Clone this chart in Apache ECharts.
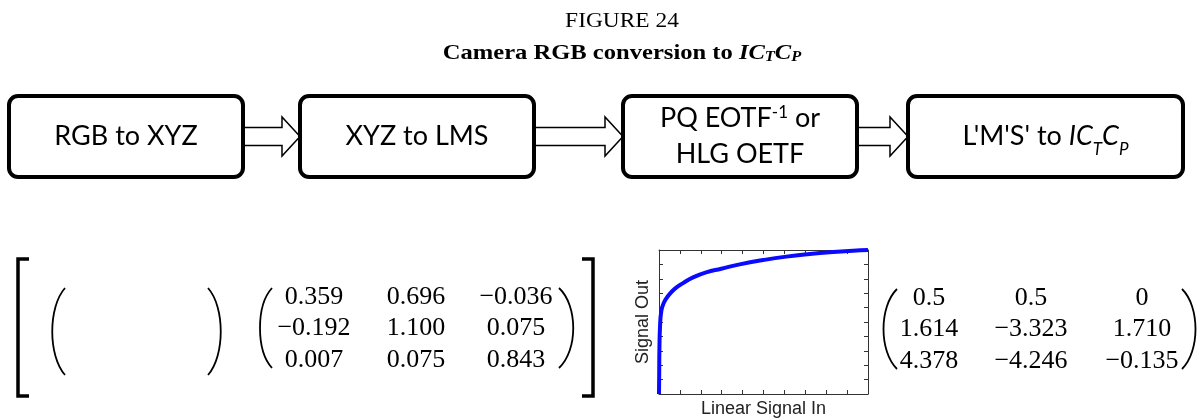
<!DOCTYPE html>
<html>
<head>
<meta charset="utf-8">
<script src="https://cdn.jsdelivr.net/npm/echarts@6/dist/echarts.min.js"></script>
<style>
html, body { margin: 0; padding: 0; background: #fff; }
#main { width: 1201px; height: 419px; }
</style>
</head>
<body>
<div id="main"></div>
<script>
// ▼ transfer curve (x = linear in, y = signal out)
const aCurveX = [0, 0.001, 0.002, 0.005, 0.011, 0.022, 0.043, 0.075, 0.115, 0.163, 0.226, 0.298, 0.386, 0.498, 0.609, 0.721, 0.833, 0.928, 1];
const aCurveY = [0, 0.15, 0.31, 0.47, 0.575, 0.63, 0.68, 0.73, 0.77, 0.81, 0.845, 0.87, 0.90, 0.93, 0.954, 0.972, 0.986, 0.995, 1];

const aBoxLabels = [
    '{n|RGB to XYZ}',
    '{n|XYZ to LMS}',
    '{n|PQ EOTF}{sup|-1}{n| or}\n{n|HLG OETF}',
    '{n|L\'M\'S\' to }{i|IC}{sub|T}{i|C}{sub|P}',
];
const aMatrixLMS = [
    ['0.359', '0.696', '\u22120.036'],
    ['\u22120.192', '1.100', '0.075'],
    ['0.007', '0.075', '0.843'],
];
const aMatrixICtCp = [
    ['0.5', '0.5', '0'],
    ['1.614', '\u22123.323', '1.710'],
    ['4.378', '\u22124.246', '\u22120.135'],
];
const sFigure = 'FIGURE 24';
const sCaption = '{b|Camera RGB conversion to }{bi|IC}{bs|T}{bi|C}{bs|P}';
const sAxisX = 'Linear Signal In';
const sAxisY = 'Signal Out';

// layout of the flow boxes
const aBoxX = [[9, 243], [300, 534], [623, 857], [908, 1183]];
const iBoxTop = 96, iBoxBottom = 177;
const iMidY = (iBoxTop + iBoxBottom) / 2;

const sSans = 'Lato, "Open Sans", sans-serif';
const sSerif = '"Liberation Serif", "Times New Roman", serif';

function getArrow(x0, x1){
    const xh = x1 - 18;
    return {
        type: 'polygon',
        shape: { points: [[x0, iMidY - 9], [xh, iMidY - 9], [xh, iMidY - 19.5], [x1, iMidY], [xh, iMidY + 19.5], [xh, iMidY + 9], [x0, iMidY + 9]] },
        style: { fill: '#fff', stroke: '#000', lineWidth: 1.5 },
    };
}

function getParen(x, yTop, yBot, bulge){
    // bulge < 0: "(" ; bulge > 0: ")"
    const h = yBot - yTop;
    return {
        type: 'bezierCurve',
        shape: { x1: x, y1: yTop, cpx1: x + bulge, cpy1: yTop + h * 0.22, cpx2: x + bulge, cpy2: yBot - h * 0.22, x2: x, y2: yBot },
        style: { fill: 'none', stroke: '#000', lineWidth: 1.8 },
    };
}

function getMatrixText(aRows, aColX, aRowY){
    const arr = [];
    aRows.forEach((row, r) => {
        row.forEach((s, c) => {
            arr.push({
                type: 'text', x: aColX[c], y: aRowY[r],
                style: { text: s, fontFamily: sSerif, fontSize: 26, fill: '#000', align: 'center', verticalAlign: 'middle' },
            });
        });
    });
    return arr;
}

const aGraphic = [];
// arrows first, boxes drawn over them
aGraphic.push(getArrow(243, 300), getArrow(534, 623), getArrow(857, 908));
aBoxX.forEach((cur, idx) => {
    aGraphic.push({
        type: 'rect',
        shape: { x: cur[0], y: iBoxTop, width: cur[1] - cur[0], height: iBoxBottom - iBoxTop, r: 9 },
        style: { fill: '#fff', stroke: '#000', lineWidth: 4 },
    });
    aGraphic.push({
        type: 'text', x: (cur[0] + cur[1]) / 2, y: iMidY,
        style: {
            text: aBoxLabels[idx], align: 'center', verticalAlign: 'middle', fill: '#000',
            rich: {
                n: { fontFamily: sSans, fontSize: 27, lineHeight: 36, verticalAlign: 'middle' },
                i: { fontFamily: sSans, fontSize: 27, fontStyle: 'italic', lineHeight: 44, verticalAlign: 'middle' },
                sub: { fontFamily: sSans, fontSize: 17, fontStyle: 'italic', lineHeight: 44, verticalAlign: 'bottom' },
                sup: { fontFamily: sSans, fontSize: 17, lineHeight: 36, verticalAlign: 'middle', padding: [0, 0, 12, 0] },
            },
        },
    });
});

// titles
aGraphic.push({
    type: 'text', x: 622, y: 22, scaleX: 1.17,
    style: { text: sFigure, fontFamily: sSerif, fontSize: 20, fill: '#000', align: 'center', verticalAlign: 'middle' },
});
aGraphic.push({
    type: 'text', x: 622, y: 51, scaleX: 1.17,
    style: {
        text: sCaption, align: 'center', verticalAlign: 'middle', fill: '#000',
        rich: {
            b: { fontFamily: sSerif, fontSize: 21, fontWeight: 'bold', verticalAlign: 'bottom', lineHeight: 26 },
            bi: { fontFamily: sSerif, fontSize: 21, fontWeight: 'bold', fontStyle: 'italic', verticalAlign: 'bottom', lineHeight: 26 },
            bs: { fontFamily: sSerif, fontSize: 14, fontWeight: 'bold', fontStyle: 'italic', verticalAlign: 'bottom', lineHeight: 26 },
        },
    },
});

// big square bracket and the parentheses of the matrices
aGraphic.push({
    type: 'polyline', shape: { points: [[29, 259], [18, 259], [18, 396], [29, 396]] },
    style: { fill: 'none', stroke: '#000', lineWidth: 3.5 },
});
aGraphic.push({
    type: 'polyline', shape: { points: [[582, 259], [593, 259], [593, 396], [582, 396]] },
    style: { fill: 'none', stroke: '#000', lineWidth: 3.5 },
});
aGraphic.push(getParen(65, 288, 375, -17), getParen(208, 288, 375, 17));
aGraphic.push(getParen(272, 288, 368, -16), getParen(559, 288, 368, 19));
aGraphic.push(getParen(897, 289, 369, -18), getParen(1182, 289, 369, 18));
aGraphic.push(...getMatrixText(aMatrixLMS, [314, 416, 516], [297, 328.5, 360]));
aGraphic.push(...getMatrixText(aMatrixICtCp, [929, 1031, 1142], [298, 329.5, 361]));

const oAxisCommon = {
    type: 'value', min: 0, max: 1, interval: 0.1,
    axisLine: { show: true, onZero: false, lineStyle: { color: '#333', width: 1 } },
    axisTick: { show: true, inside: true, length: 4, lineStyle: { color: '#333' } },
    axisLabel: { show: false },
    splitLine: { show: false },
};
const oNameStyle = { fontFamily: '"Liberation Sans", Arial, sans-serif', fontSize: 18, color: '#222' };

const myChart = echarts.init(document.getElementById('main'), null, { renderer: 'canvas' });
const option = {
    animation: false,
    backgroundColor: '#fff',
    grid: { left: 659, top: 250, width: 209, height: 145 },
    xAxis: [
        { ...oAxisCommon, position: 'bottom', name: sAxisX, nameLocation: 'middle', nameGap: 6, nameTextStyle: oNameStyle },
        { ...oAxisCommon, position: 'top' },
    ],
    yAxis: [
        { ...oAxisCommon, position: 'left', name: sAxisY, nameLocation: 'middle', nameGap: 7, nameTextStyle: oNameStyle },
        { ...oAxisCommon, position: 'right' },
    ],
    series: [{
        type: 'line',
        xAxisIndex: 0, yAxisIndex: 0,
        data: aCurveX.map((x, i) => [x, aCurveY[i]]),
        symbol: 'none',
        smooth: 0.5,
        lineStyle: { color: '#0a0aff', width: 4 },
    }],
    graphic: aGraphic,
};
myChart.setOption(option);
</script>
</body>
</html>
